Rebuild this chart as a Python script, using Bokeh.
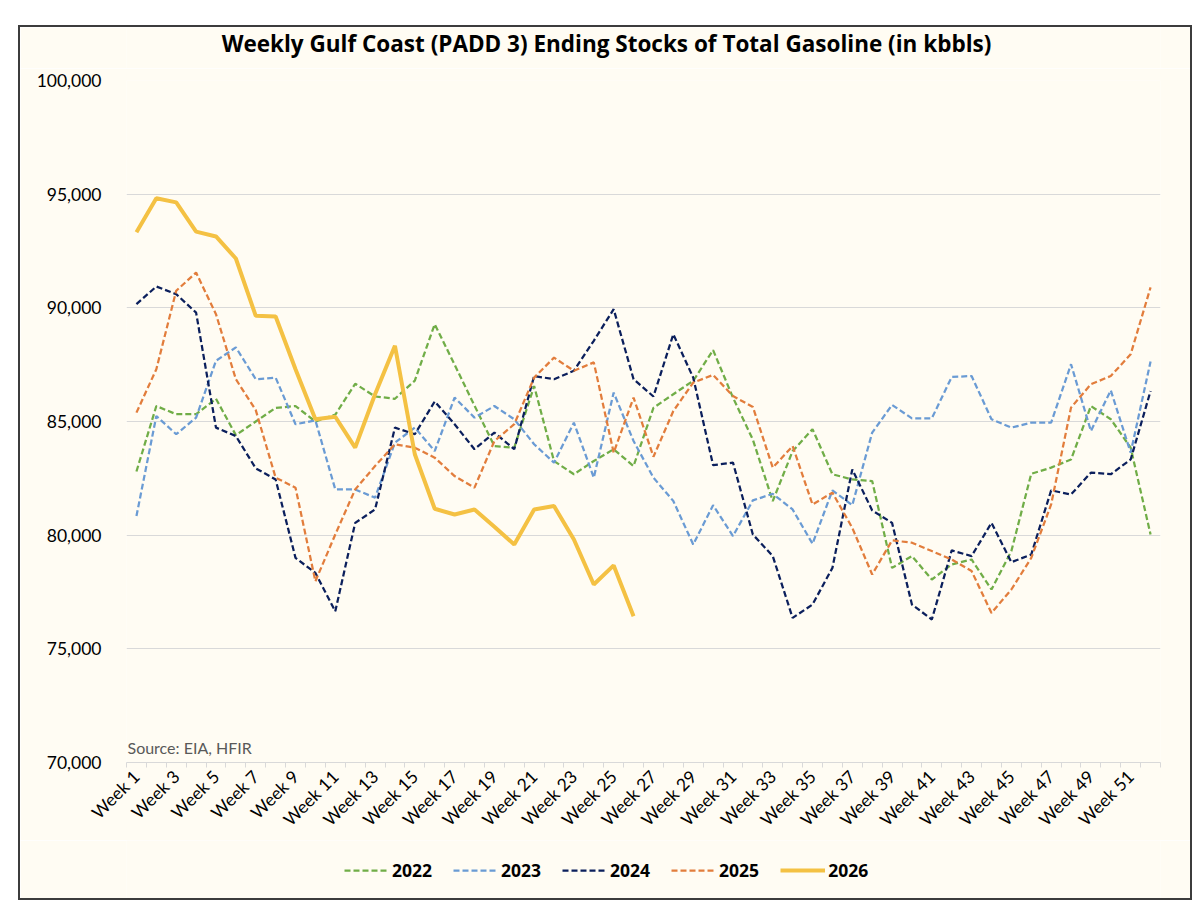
import numpy as np
from bokeh.plotting import figure
from bokeh.layouts import column
from bokeh.models import (ColumnDataSource, FixedTicker, NumeralTickFormatter,
                          Legend, LegendItem, Label, Range1d)
from bokeh.embed import file_html
from bokeh.resources import INLINE

weeks = list(range(1, 53))
tick_weeks = list(range(1, 52, 2))
week_labels = {w: f"Week {w}" for w in tick_weeks}
y_ticks = [70000, 75000, 80000, 85000, 90000, 95000, 100000]
years = ["2022", "2023", "2024", "2025", "2026"]

s2022 = [82800, 85680, 85320, 85320, 86000, 84400, 85000, 85600, 85680, 85000,
         85300, 86660, 86100, 86000, 86800, 89280, 87500, 85700, 83920, 83850,
         86560, 83260, 82680, 83260, 83780, 83040, 85600, 86200, 86790, 88140,
         86050, 84200, 81500, 83700, 84660, 82680, 82450, 82380, 78560, 79080,
         78050, 78710, 78930, 77610, 79300, 82700, 82970, 83330, 85680, 85100,
         83850, 80030]
s2023 = [80840, 85240, 84440, 85170, 87670, 88260, 86860, 86930, 84880, 85050,
         82010, 82010, 81650, 84070, 84730, 83700, 86050, 85170, 85680, 85100,
         84000, 83190, 84950, 82530, 86270, 84140, 82530, 81500, 79590, 81320,
         79960, 81530, 81820, 81130, 79620, 81970, 81320, 84510, 85730, 85140,
         85140, 86960, 87000, 85100, 84730, 84950, 84950, 87520, 84580, 86370,
         83630, 87640]
s2024 = [90160, 90940, 90600, 89790, 84730, 84360, 82940, 82450, 79000, 78340,
         76650, 80540, 81130, 84730, 84440, 85880, 84880, 83780, 84510, 83780,
         87000, 86860, 87230, 88550, 89940, 86860, 86100, 88840, 86930, 83080,
         83190, 80030, 79080, 76360, 76950, 78560, 82890, 81090, 80540, 76950,
         76290, 79330, 79080, 80540, 78810, 79150, 81970, 81790, 82750, 82680,
         83330, 86340]
s2025 = [85390, 87300, 90750, 91550, 89720, 86860, 85500, 82530, 82090, 77970,
         80030, 82010, 83040, 84000, 83850, 83410, 82600, 82090, 84140, 84880,
         86930, 87810, 87230, 87600, 83630, 86050, 83450, 85460, 86710, 87050,
         86120, 85640, 82970, 83920, 81350, 81870, 80320, 78270, 79770, 79670,
         79300, 78930, 78420, 76580, 77610, 79000, 81350, 85610, 86640, 87000,
         87960, 90900]
s2026 = [93320, 94820, 94640, 93350, 93140, 92170, 89650, 89620, 87300, 85100,
         85210, 83850, 86200, 88330, 83560, 81160, 80910, 81130, 80370, 79590,
         81130, 81280, 79810, 77830, 78670, 76430]

BG = "#FFFCF3"
GRID = "#D9D9D9"
FONT = "Lato"
TFONT = "Open Sans"
COLORS = ["#70AD47", "#6A9BD4", "#0B1F5C", "#E27D3C", "#F4C143"]
DASH = "6 3"
W = 1170


def blank(height):
    f = figure(width=W, height=height, x_range=Range1d(0, 1), y_range=Range1d(0, 1),
               output_backend="svg", toolbar_location=None, min_border=0,
               background_fill_color=BG, border_fill_color=BG, outline_line_color=None)
    f.axis.visible = False
    f.grid.visible = False
    return f


# ---- title strip (frames in the column align with the main chart's frame)
t = blank(41)
t.add_layout(Label(x=480, y=25, x_units="screen", y_units="screen",
                   text="Weekly Gulf Coast (PADD 3) Ending Stocks of Total Gasoline (in kbbls)",
                   text_align="center", text_baseline="middle", text_font=TFONT,
                   text_font_style="bold", text_font_size="22.5px", text_color="#000000"))

# ---- main chart
src = ColumnDataSource(dict(week=weeks, v2022=s2022, v2023=s2023, v2024=s2024, v2025=s2025))
src26 = ColumnDataSource(dict(week=weeks[:len(s2026)], v2026=s2026))

p = figure(frame_width=1034, frame_height=682, x_range=Range1d(0.5, 52.5),
           y_range=Range1d(70000, 100000),
           output_backend="svg", toolbar_location=None,
           min_border_left=106, min_border_right=30, min_border_top=12, min_border_bottom=78,
           background_fill_color=BG, border_fill_color=BG, outline_line_color=None)

p.xgrid.grid_line_color = None
p.ygrid.grid_line_color = GRID
p.ygrid.grid_line_width = 1

xa = p.xaxis[0]
xa.ticker = FixedTicker(ticks=tick_weeks, minor_ticks=[w - 0.5 for w in weeks] + [52.5])
xa.major_label_overrides = week_labels
xa.major_label_orientation = np.pi / 4
xa.major_tick_out = 0
xa.major_tick_in = 0
xa.minor_tick_out = 5
xa.minor_tick_in = 0
xa.minor_tick_line_color = GRID
xa.axis_line_color = GRID
xa.major_label_text_font = FONT
xa.major_label_text_font_size = "17.5px"
xa.major_label_text_color = "#000000"
xa.major_label_standoff = 6

ya = p.yaxis[0]
ya.ticker = FixedTicker(ticks=y_ticks)
ya.formatter = NumeralTickFormatter(format="0,0")
ya.axis_line_color = None
ya.major_tick_line_color = None
ya.minor_tick_line_color = None
ya.major_label_text_font = FONT
ya.major_label_text_font_size = "17.5px"
ya.major_label_text_color = "#000000"
ya.major_label_standoff = 19

cols = ["v2022", "v2023", "v2024", "v2025"]
for c, colr in zip(cols, COLORS[:4]):
    p.line("week", c, source=src, line_color=colr, line_width=2.25, line_dash=DASH)
p.line("week", "v2026", source=src26, line_color=COLORS[4], line_width=4)

p.add_layout(Label(x=1, y=15, x_units="screen", y_units="screen", text="Source: EIA, HFIR",
                   text_align="left", text_baseline="middle", text_font=FONT,
                   text_font_size="16px", text_color="#595959"))

# ---- legend strip (proxy renderers sit outside the strip's visible range)
q = blank(58)
items = []
for i, (yr, colr) in enumerate(zip(years, COLORS)):
    width = 2.25 if i < 4 else 4
    dash = DASH if i < 4 else "solid"
    r = q.line([-5, -4], [-5, -4], line_color=colr, line_width=width, line_dash=dash)
    items.append(LegendItem(label=yr, renderers=[r]))
legend = Legend(items=items, orientation="horizontal", location=(218, 16),
                glyph_width=45, glyph_height=20, label_standoff=3, spacing=21,
                padding=0, margin=0, border_line_color=None, background_fill_alpha=0,
                label_text_font=TFONT, label_text_font_style="bold",
                label_text_font_size="17.5px", label_text_color="#000000")
q.add_layout(legend)

layout = column(t, p, q, spacing=0)
layout.margin = (27, 10, 10, 20)
layout.styles = {"outline": "2px solid #3C3C3C"}

open("out.html", "w").write(file_html(layout, INLINE))
